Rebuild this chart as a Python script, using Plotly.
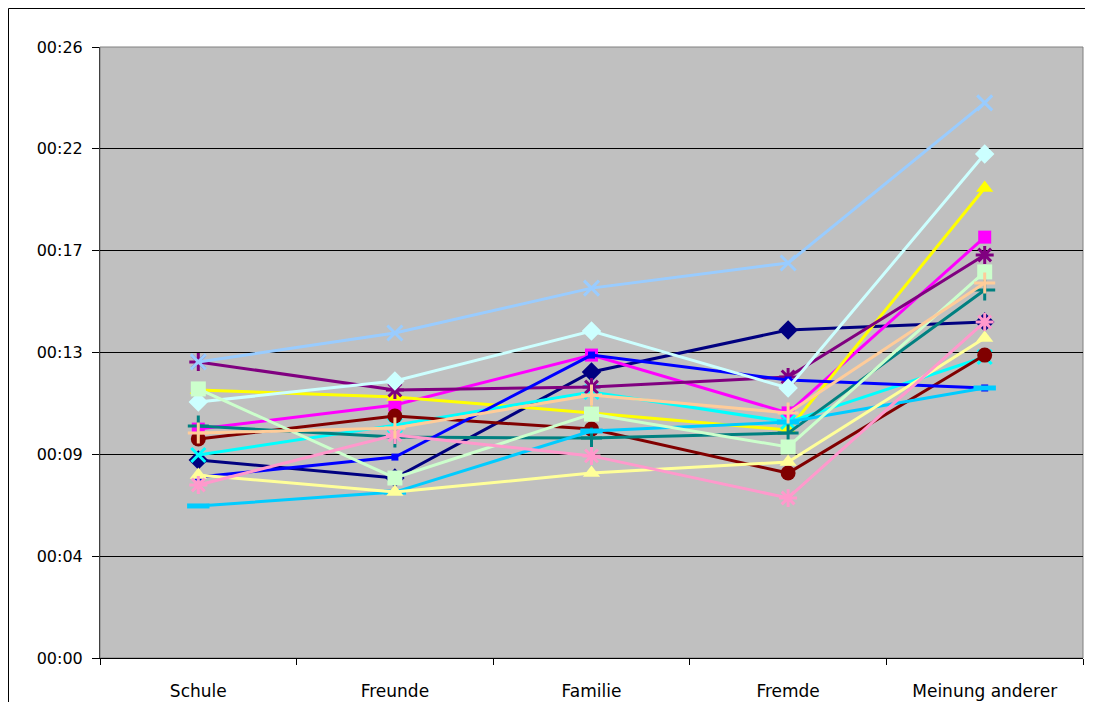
import plotly.graph_objects as go

categories = ["Schule", "Freunde", "Familie", "Fremde", "Meinung anderer"]

# values in seconds
navy = [8.43, 7.66, 12.17, 13.96, 14.30]
magenta = [9.74, 10.77, 12.89, 10.43, 17.91]
yellow = [11.40, 11.11, 10.43, 9.70, 20.00]
cyan = [8.64, 9.91, 11.32, 10.04, 12.81]
purple = [12.60, 11.40, 11.53, 11.96, 17.15]
maroon = [9.32, 10.30, 9.74, 7.87, 12.89]
teal = [9.87, 9.40, 9.36, 9.57, 15.66]
blue = [7.70, 8.55, 12.89, 11.83, 11.49]
sky = [6.47, 7.06, 9.66, 10.04, 11.49]
light_cyan = [10.89, 11.79, 13.91, 11.49, 21.45]
light_green = [11.45, 7.66, 10.38, 8.98, 16.43]
light_yellow = [7.79, 7.06, 7.87, 8.34, 13.62]
light_blue = [12.60, 13.83, 15.74, 16.81, 23.62]
pink = [7.36, 9.49, 8.60, 6.81, 14.30]
peach = [9.57, 9.79, 11.19, 10.43, 15.96]

tick_labels = ["00:00", "00:04", "00:09", "00:13", "00:17", "00:22", "00:26"]
y_max = 26

series = [
    (navy, "#000080", "diamond", 15, 0),
    (magenta, "#FF00FF", "square", 13, 0),
    (yellow, "#FFFF00", "triangle-up", 15, 0),
    (cyan, "#00FFFF", "x-thin", 14, 3),
    (purple, "#800080", "asterisk", 15, 3),
    (maroon, "#800000", "circle", 15, 0),
    (teal, "#008080", "cross-thin", 15, 3),
    (blue, "#0000FF", "square", 7, 0),
    (sky, "#00CCFF", "line-ew", 16, 5),
    (light_cyan, "#CCFFFF", "diamond", 15, 0),
    (light_green, "#CCFFCC", "square", 15, 0),
    (light_yellow, "#FFFF99", "triangle-up", 15, 0),
    (light_blue, "#99CCFF", "x-thin", 15, 3),
    (pink, "#FF99CC", "asterisk", 15, 3),
    (peach, "#FFCC99", "cross-thin", 15, 3),
]

fig = go.Figure()
for vals, col, sym, size, lw in series:
    marker = dict(symbol=sym, size=size, color=col)
    if lw:
        marker["line"] = dict(color=col, width=lw)
    else:
        marker["line"] = dict(width=0)
    fig.add_trace(go.Scatter(
        x=categories, y=vals, mode="lines+markers",
        line=dict(color=col, width=3),
        marker=marker, showlegend=False,
    ))

tickvals = [i * y_max / (len(tick_labels) - 1) for i in range(len(tick_labels))]

fig.update_layout(
    width=1085, height=694,
    margin=dict(l=92, r=10, t=39, b=44),
    paper_bgcolor="white",
    plot_bgcolor="#C0C0C0",
    font=dict(family="DejaVu Sans", size=16, color="black"),
    showlegend=False,
)
fig.update_yaxes(
    range=[0, y_max], tickvals=tickvals, ticktext=tick_labels,
    showgrid=True, gridcolor="black", gridwidth=1,
    zeroline=False, showline=True, linecolor="#404040", linewidth=1,
    ticks="outside", ticklen=7, tickcolor="black", ticklabelstandoff=6,
    automargin=False,
)
fig.update_xaxes(
    type="category", range=[-0.5, 4.5], tickson="boundaries",
    showgrid=False, zeroline=False, showline=True, linecolor="black", linewidth=1,
    ticks="outside", ticklen=6, tickcolor="black", ticklabelstandoff=18,
    tickfont=dict(size=17), automargin=False,
)
fig.add_shape(type="rect", xref="paper", yref="paper", x0=0, x1=1, y0=0, y1=1,
              line=dict(color="#808080", width=1), fillcolor="rgba(0,0,0,0)", layer="below")
fig.add_shape(type="rect", xref="paper", yref="paper",
              x0=(0.5 - 92) / 983, x1=1.05, y0=-0.2, y1=1 + (39 - 0.5) / 611,
              line=dict(color="black", width=1), fillcolor="rgba(0,0,0,0)")

fig.write_html("out.html")
